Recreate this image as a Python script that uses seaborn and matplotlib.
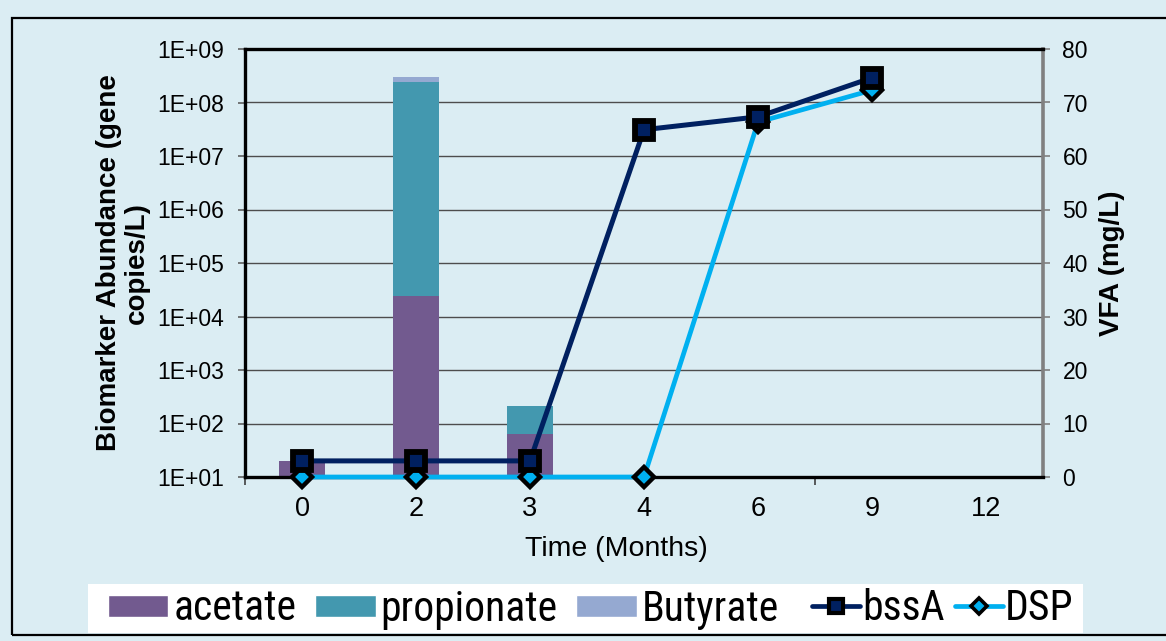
import numpy as np
import pandas as pd
import matplotlib
matplotlib.use("Agg")
import matplotlib.pyplot as plt
import seaborn as sns
from matplotlib.patches import Rectangle, Patch
from matplotlib.lines import Line2D
from matplotlib.ticker import NullLocator, FixedLocator, FixedFormatter

# ---------------- data ----------------
months = ["0", "2", "3", "4", "6", "9", "12"]
acetate = [3.0, 33.8, 8.0, 0.0, 0.0, 0.0, 0.0]        # mg/L
propionate = [0.0, 40.1, 5.3, 0.0, 0.0, 0.0, 0.0]     # mg/L
butyrate = [0.0, 0.9, 0.0, 0.0, 0.0, 0.0, 0.0]        # mg/L
bssA = [2.0e1, 2.0e1, 2.0e1, 3.1e7, 5.4e7, 2.9e8, np.nan]   # gene copies/L
dsp = [1.0e1, 1.0e1, 1.0e1, 1.0e1, 4.3e7, 1.7e8, np.nan]    # gene copies/L
left_exps = [1, 2, 3, 4, 5, 6, 7, 8, 9]
right_ticks = [0, 10, 20, 30, 40, 50, 60, 70, 80]

# ---------------- style ----------------
BG = "#DBEDF3"
C_AC = "#725A8F"
C_PR = "#4398AF"
C_BU = "#95A9D1"
C_BSSA = "#002060"
C_DSP = "#00B0F0"
W, H = 1166, 641

sns.set_theme(style="white")
plt.rcParams["font.family"] = ["Liberation Sans", "DejaVu Sans"]
plt.rcParams["text.color"] = "black"

fig = plt.figure(figsize=(W / 100, H / 100), dpi=100, facecolor=BG)
ax = fig.add_axes([245 / W, 1 - 477 / H, 798 / W, 428 / H])
ax.set_facecolor(BG)
ax2 = ax.twinx()

df = pd.DataFrame({"month": months, "acetate": acetate,
                   "propionate": propionate, "butyrate": butyrate})
df["top_pr"] = df["acetate"] + df["propionate"]
df["top_bu"] = df["top_pr"] + df["butyrate"]

# stacked bars (drawn as layered cumulative totals) on VFA axis
for col, c in [("top_bu", C_BU), ("top_pr", C_PR), ("acetate", C_AC)]:
    sns.barplot(data=df, x="month", y=col, order=months, color=c, width=0.4,
                saturation=1, errorbar=None, linewidth=0, ax=ax, zorder=2)

ax.set_xlim(-0.5, len(months) - 0.5)
ax.set_ylim(0, 80)
ax.yaxis.set_major_locator(FixedLocator(right_ticks))
ax.yaxis.tick_right()
ax.yaxis.set_label_position("right")
ax.set_axisbelow(True)
ax.yaxis.grid(True, color="#4D4D4D", lw=1.0)
ax.xaxis.grid(False)
for s in ax.spines.values():
    s.set_visible(False)
ax.tick_params(axis="y", which="major", right=True, left=False, direction="out",
               length=5, width=1.2, color="#808080", labelsize=16.5, pad=9,
               labelcolor="black")
ax.set_xticks(range(len(months)))
ax.set_xticklabels(months)
ax.set_xticks([-0.5, 4.5], minor=True)
ax.tick_params(axis="x", which="major", length=0, labelsize=19.5, pad=14, labelcolor="black")
ax.tick_params(axis="x", which="minor", bottom=True, length=6, width=1.2,
               color="#404040", direction="out")
ax.set_xlabel("Time (Months)", fontsize=20.5, color="black")
ax.xaxis.set_label_coords(0.465, -0.168)
ax.xaxis.label.set_va("center")
ax.set_ylabel("VFA (mg/L)", fontsize=20, fontweight="bold", color="black")
ax.yaxis.set_label_coords(1.0865, 0.5)
ax.yaxis.label.set_va("center")

# lines on log biomarker axis
x_pos = np.arange(len(months))
sns.lineplot(x=x_pos, y=dsp, ax=ax2, color=C_DSP, lw=3.4, marker="D",
             markersize=10, markerfacecolor=C_DSP, markeredgecolor="black",
             markeredgewidth=3.2, clip_on=False, zorder=5, legend=False)
sns.lineplot(x=x_pos, y=bssA, ax=ax2, color=C_BSSA, lw=3.6, marker="s",
             markersize=13, markerfacecolor=C_BSSA, markeredgecolor="black",
             markeredgewidth=4.2, clip_on=False, zorder=6, legend=False)

ax2.set_yscale("log")
ax2.set_ylim(10, 1e9)
ax2.set_xlim(-0.5, len(months) - 0.5)
ax2.yaxis.set_major_locator(FixedLocator([10.0 ** e for e in left_exps]))
ax2.yaxis.set_major_formatter(FixedFormatter([f"1E+{e:02d}" for e in left_exps]))
ax2.yaxis.set_minor_locator(NullLocator())
ax2.yaxis.tick_left()
ax2.yaxis.set_label_position("left")
ax2.tick_params(axis="y", which="major", left=True, right=False, direction="out",
                length=5, width=1.2, color="#606060", labelsize=16.5, pad=10,
                labelcolor="black")
ax2.set_ylabel("Biomarker Abundance (gene\ncopies/L)", fontsize=20,
               fontweight="bold", color="black", linespacing=1.1)
ax2.yaxis.set_label_coords(-0.153, 0.5)
ax2.yaxis.label.set_va("center")
ax2.set_xlabel("")
for k in ("left", "top", "bottom"):
    ax2.spines[k].set_color("black")
    ax2.spines[k].set_linewidth(2.4)
ax2.spines["right"].set_color("#808080")
ax2.spines["right"].set_linewidth(2.6)

# outer chart border
fig.patches.append(Rectangle((12 / W, 1 - 635 / H), 1.2, (635 - 18) / H,
                             transform=fig.transFigure, fill=False,
                             edgecolor="black", lw=1.6, zorder=0))
# legend area
fig.patches.append(Rectangle((88 / W, 1 - 633 / H), (1083 - 88) / W, (633 - 584) / H,
                             transform=fig.transFigure, facecolor="white",
                             edgecolor="none", zorder=1))

legprop = {"family": ["Roboto Condensed", "Liberation Sans"], "size": 30}
h1 = [Patch(facecolor=C_AC, label="acetate"),
      Patch(facecolor=C_PR, label="propionate"),
      Patch(facecolor=C_BU, label="Butyrate")]
fig.legend(handles=h1, loc="center left", bbox_to_anchor=(108 / W, 1 - 609 / H),
           ncol=3, frameon=False, prop=legprop, labelcolor="black",
           handlelength=1.45, handleheight=0.43, handletextpad=0.12,
           columnspacing=0.45, borderpad=0, borderaxespad=0)
h2 = [Line2D([], [], color=C_BSSA, lw=3.4, marker="s", markersize=10,
             markerfacecolor=C_BSSA, markeredgecolor="black", markeredgewidth=3,
             label="bssA"),
      Line2D([], [], color=C_DSP, lw=3.4, marker="D", markersize=8,
             markerfacecolor=C_DSP, markeredgecolor="black", markeredgewidth=2.6,
             label="DSP")]
fig.legend(handles=h2, loc="center left", bbox_to_anchor=(812 / W, 1 - 609 / H),
           ncol=2, frameon=False, prop=legprop, labelcolor="black",
           handlelength=1.15, handletextpad=0.05, columnspacing=0.25,
           borderpad=0, borderaxespad=0)

fig.savefig("out.png", dpi=100, facecolor=BG)
